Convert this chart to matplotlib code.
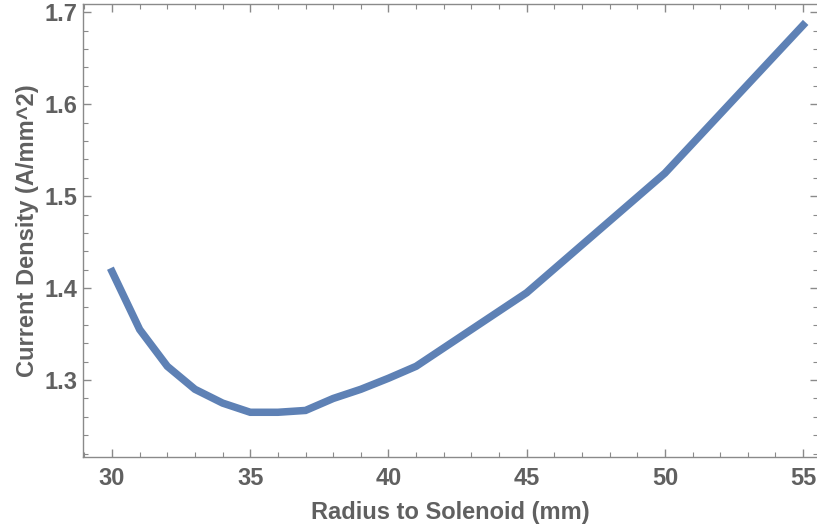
import matplotlib.pyplot as plt
from matplotlib.ticker import MultipleLocator

radius = [30, 31, 32, 33, 34, 35, 36, 37, 38, 39, 40, 41, 45, 50, 55]
density = [1.418, 1.355, 1.315, 1.290, 1.275, 1.265, 1.265, 1.267, 1.280, 1.290,
           1.302, 1.315, 1.395, 1.525, 1.686]

plt.rcParams['font.family'] = ['Liberation Sans', 'DejaVu Sans']
plt.rcParams['font.weight'] = 'bold'
gray = '#606060'
frame = '#8a8a8a'

fig = plt.figure(figsize=(8.17, 5.29), dpi=100)
ax = fig.add_axes([0.1016, 0.136, 0.9, 0.8564])
ax.plot(radius, density, color='#5E81B5', lw=5.4, solid_joinstyle='miter')

ax.set_xlim(28.95, 55.55)
ax.set_ylim(1.2163, 1.709)
ax.xaxis.set_major_locator(MultipleLocator(5))
ax.xaxis.set_minor_locator(MultipleLocator(1))
ax.yaxis.set_major_locator(MultipleLocator(0.1))
ax.yaxis.set_minor_locator(MultipleLocator(0.02))
ax.yaxis.set_major_formatter(plt.FormatStrFormatter('%.1f'))

for s in ax.spines.values():
    s.set_color(frame)
    s.set_linewidth(1.0)
ax.tick_params(which='both', direction='in', top=True, right=True, color=frame,
               labelcolor=gray, labelsize=17)
ax.tick_params(which='major', length=6, width=1)
ax.tick_params(which='minor', length=3.5, width=0.8)
ax.tick_params(axis='x', pad=7)
ax.tick_params(axis='y', pad=4)

ax.set_xlabel('Radius to Solenoid (mm)', fontsize=17, color=gray, fontweight='bold', labelpad=8)
ax.set_ylabel('Current Density (A/mm^2)', fontsize=17, color=gray, fontweight='bold', labelpad=4)

fig.savefig('out.png', dpi=100)
